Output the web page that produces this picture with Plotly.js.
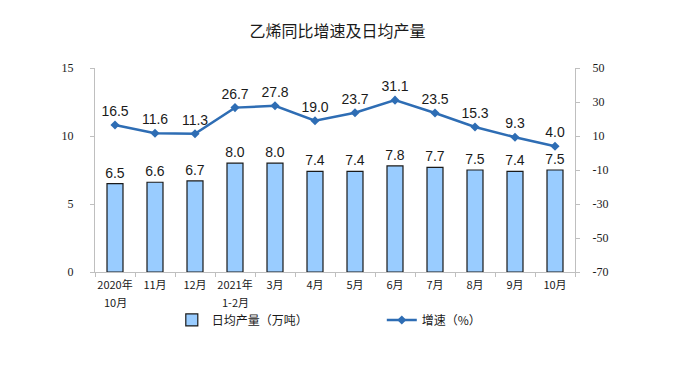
<!DOCTYPE html>
<html>
<head>
<meta charset="utf-8">
<script src="https://cdn.plot.ly/plotly-3.0.1.min.js"></script>
<style>html,body{margin:0;padding:0;background:#fff;}#chart{width:675px;height:369px;}</style>
</head>
<body>
<div id="chart"></div>
<script>
var categories = ["2020年10月","11月","12月","2021年1-2月","3月","4月","5月","6月","7月","8月","9月","10月"];
var tickLine1 = ["2020年","11月","12月","2021年","3月","4月","5月","6月","7月","8月","9月","10月"];
var tickLine2 = ["10月","","","1-2月","","","","","","","",""];
var dailyOutput = [6.5, 6.6, 6.7, 8.0, 8.0, 7.4, 7.4, 7.8, 7.7, 7.5, 7.4, 7.5];
var growthRate = [16.5, 11.6, 11.3, 26.7, 27.8, 19.0, 23.7, 31.1, 23.5, 15.3, 9.3, 4.0];
var leftTicks = [0, 5, 10, 15];
var rightTicks = [-70, -50, -30, -10, 10, 30, 50];
var rightTickText = ["-70", "-50", "-30", "-10", "10", "30", "50"];

var traces = [
  {
    type: "bar", name: "日均产量（万吨）", x: categories, y: dailyOutput,
    width: 0.4,
    marker: {color: "#99ccff", line: {color: "#1a1a1a", width: 1.2}},
    texttemplate: "%{y:.1f}", textposition: "outside", cliponaxis: false, constraintext: "none",
    textfont: {family: "Liberation Sans, Arial", size: 14, color: "#1a1a1a"},
    hoverinfo: "skip"
  },
  {
    type: "scatter", mode: "lines+markers+text", name: "增速（%）", x: categories, y: growthRate,
    yaxis: "y2",
    line: {color: "#2e6db4", width: 2.5},
    marker: {symbol: "diamond", size: 7, color: "#2e6db4"},
    texttemplate: "%{y:.1f}", textposition: "top center", cliponaxis: false,
    textfont: {family: "Liberation Sans, Arial", size: 14, color: "#1a1a1a"},
    hoverinfo: "skip"
  }
];

var annotations = [];
for (var i = 0; i < categories.length; i++) {
  if (tickLine2[i]) {
    annotations.push({
      x: categories[i], xref: "x", y: 0, yref: "paper", yshift: -20,
      text: tickLine2[i], showarrow: false, xanchor: "center", yanchor: "top",
      font: {family: "Noto Sans CJK SC", size: 11, color: "#1a1a1a"}
    });
  }
}

var layout = {
  width: 675, height: 369,
  margin: {l: 95, r: 100, t: 68, b: 97},
  paper_bgcolor: "#ffffff", plot_bgcolor: "#ffffff",
  title: {text: "乙烯同比增速及日均产量", x: 0.5, xanchor: "center", y: 0.915, yanchor: "middle",
          font: {family: "Noto Sans CJK SC", size: 16, color: "#1a1a1a"}},
  showlegend: true,
  legend: {orientation: "h", x: 0.16, xanchor: "left", y: -0.235, yanchor: "middle",
           entrywidth: 165, entrywidthmode: "pixels",
           font: {family: "Noto Sans CJK SC", size: 12, color: "#1a1a1a"}, traceorder: "normal"},
  xaxis: {
    type: "category", tickson: "boundaries", ticks: "outside", ticklen: 4, tickcolor: "#bfbfbf",
    showline: true, linecolor: "#bfbfbf", linewidth: 1, showgrid: false, tickangle: 0,
    tickvals: categories, ticktext: tickLine1, ticklabelstandoff: 3,
    tickfont: {family: "Noto Sans CJK SC", size: 11, color: "#1a1a1a"},
    range: [-0.5, 11.5]
  },
  yaxis: {
    range: [0, 15], tickvals: leftTicks, ticks: "outside", ticklen: 4, tickcolor: "#bfbfbf",
    showline: true, linecolor: "#bfbfbf", showgrid: false, zeroline: false,
    tickfont: {family: "Liberation Serif", size: 12, color: "#1a1a1a"}, ticklabelstandoff: 14
  },
  yaxis2: {
    overlaying: "y", side: "right", range: [-70, 50], tickvals: rightTicks, ticktext: rightTickText,
    ticks: "outside", ticklen: 4, tickcolor: "#bfbfbf",
    showline: true, linecolor: "#bfbfbf", showgrid: false, zeroline: false,
    tickfont: {family: "Liberation Serif", size: 12, color: "#1a1a1a"}, ticklabelstandoff: 10
  },
  annotations: annotations
};

Plotly.newPlot("chart", traces, layout, {displayModeBar: false, staticPlot: true});
</script>
</body>
</html>
